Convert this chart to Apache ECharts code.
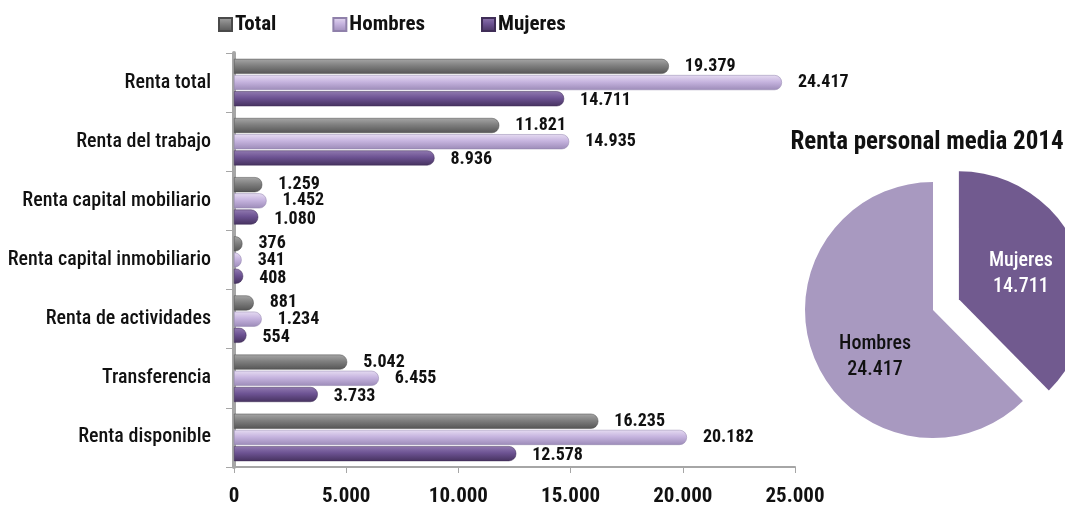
<!DOCTYPE html>
<html>
<head>
<meta charset="utf-8">
<script src="https://cdn.jsdelivr.net/npm/echarts@6/dist/echarts.min.js"></script>
<style>
  html, body { margin: 0; padding: 0; background: #fff; }
  #chart { width: 1065px; height: 509px; }
</style>
</head>
<body>
<div id="chart"></div>
<script>
var categorias = ['Renta total', 'Renta del trabajo', 'Renta capital mobiliario', 'Renta capital inmobiliario', 'Renta de actividades', 'Transferencia', 'Renta disponible']
var total = [19379, 11821, 1259, 376, 881, 5042, 16235]
var hombres = [24417, 14935, 1452, 341, 1234, 6455, 20182]
var mujeres = [14711, 8936, 1080, 408, 554, 3733, 12578]
var pieNombres = ['Mujeres', 'Hombres']
var pieValores = [14711, 24417]

var FONT = "'Roboto Condensed', sans-serif"

function miles(v) {
  return String(v).replace(/\B(?=(\d{3})+(?!\d))/g, '.')
}

function grad(c1, c2, c3) {
  return new echarts.graphic.LinearGradient(0, 0, 0, 1, [
    { offset: 0, color: c1 },
    { offset: 0.45, color: c2 },
    { offset: 1, color: c3 }
  ])
}

function barSerie(name, data, color, border, dy) {
  return {
    name: name,
    type: 'bar',
    data: data,
    barWidth: 15,
    barGap: '8%',
    itemStyle: {
      color: color,
      borderColor: border,
      borderWidth: 0.5,
      borderRadius: [0, 7, 7, 0]
    },
    label: {
      show: true,
      position: 'right',
      distance: 16,
      offset: [0, dy],
      color: '#111',
      fontFamily: FONT,
      fontWeight: 'bold',
      fontSize: 18,
      formatter: function (p) { return miles(p.value) }
    },
    animation: false
  }
}

var chart = echarts.init(document.getElementById('chart'))
chart.setOption({
  animation: false,
  textStyle: { fontFamily: FONT },
  title: {
    text: 'Renta personal media 2014',
    left: 922,
    top: 125,
    textAlign: 'center',
    textStyle: { fontFamily: FONT, fontWeight: 'bold', fontSize: 25, color: '#111' }
  },
  legend: {
    data: ['Total', 'Hombres', 'Mujeres'],
    left: 213,
    top: 9,
    itemWidth: 13,
    itemHeight: 13,
    itemGap: 56,
    icon: 'rect',
    textStyle: { fontFamily: FONT, fontWeight: 'bold', fontSize: 21, color: '#111', padding: [0, 0, 0, -2] }
  },
  grid: { left: 234, right: 270, top: 53, bottom: 42 },
  xAxis: {
    type: 'value',
    min: 0,
    max: 25000,
    interval: 5000,
    splitLine: { show: false },
    axisLine: { show: true, lineStyle: { color: '#a6a6a6', width: 2 } },
    axisTick: { show: true, length: 6, lineStyle: { color: '#a6a6a6' } },
    axisLabel: {
      margin: 19,
      color: '#111',
      fontFamily: FONT,
      fontWeight: 'bold',
      fontSize: 21,
      formatter: function (v) { return miles(v) }
    }
  },
  yAxis: {
    type: 'category',
    data: categorias,
    inverse: true,
    axisLine: { show: true, lineStyle: { color: '#a6a6a6', width: 4 } },
    axisTick: { show: true, length: 8, lineStyle: { color: '#a6a6a6' } },
    axisLabel: {
      margin: 23,
      color: '#111',
      fontFamily: FONT,
      fontSize: 20,
      fontWeight: 500
    }
  },
  series: [
    barSerie('Total', total, grad('#a6a6a6', '#7f7f7f', '#555555'), '#4a4a4a', 0),
    barSerie('Hombres', hombres, grad('#e6dcf2', '#c6b4df', '#9c8bb8'), '#8f80aa', 0),
    barSerie('Mujeres', mujeres, grad('#917ab0', '#6d5393', '#46325f'), '#3f2d57', 2),
    {
      type: 'pie',
      center: [933, 310],
      radius: [0, 128],
      startAngle: 90,
      clockwise: true,
      selectedMode: 'single',
      selectedOffset: 28,
      label: {
        show: true,
        position: 'inside',
        fontFamily: FONT,
        fontSize: 20,
        lineHeight: 26,
        formatter: function (p) { return p.name + '\n' + miles(p.value) }
      },
      data: [
        { name: pieNombres[0], value: pieValores[0], selected: true, itemStyle: { color: '#715a8f' }, label: { color: '#fff', fontWeight: 500 } },
        { name: pieNombres[1], value: pieValores[1], itemStyle: { color: '#a899c0' }, label: { color: '#111', fontWeight: 500, offset: [4, 22] } }
      ],
      animation: false
    }
  ]
})
</script>
</body>
</html>
